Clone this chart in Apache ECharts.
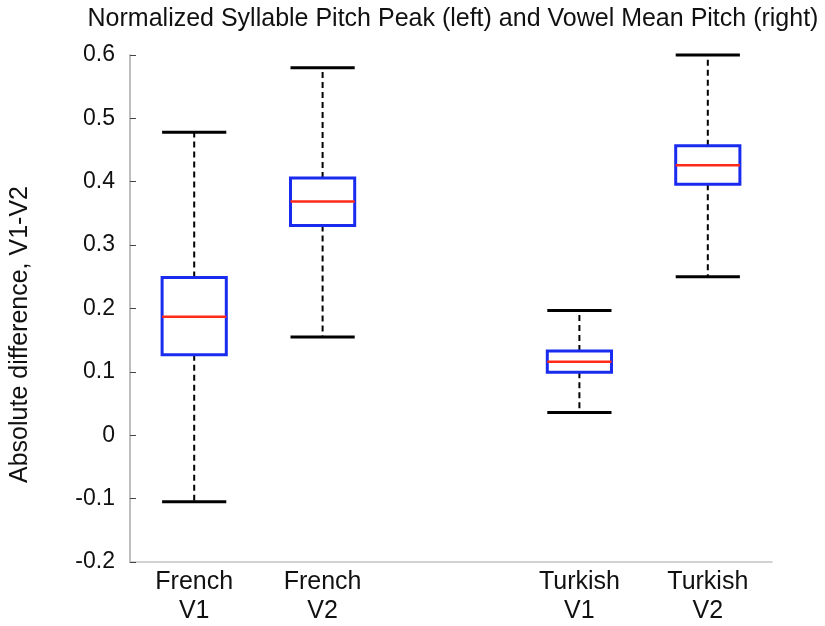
<!DOCTYPE html>
<html>
<head>
<meta charset="utf-8">
<script src="https://cdn.jsdelivr.net/npm/echarts@6/dist/echarts.min.js"></script>
<style>
  html, body { margin: 0; padding: 0; background: #fff; }
  #chart { width: 825px; height: 626px; }
</style>
</head>
<body>
<div id="chart"></div>
<script>
// x axis slots; the empty one makes the gap between the two languages
const categories = ['French\nV1', 'French\nV2', '', 'Turkish\nV1', 'Turkish\nV2'];
const boxCats = ['French\nV1', 'French\nV2', 'Turkish\nV1', 'Turkish\nV2'];
const whiskerLow = [-0.105, 0.155, 0.036, 0.250];
const q1 = [0.127, 0.331, 0.0995, 0.396];
const median = [0.187, 0.369, 0.116, 0.426];
const q3 = [0.249, 0.406, 0.133, 0.457];
const whiskerHigh = [0.478, 0.580, 0.197, 0.600];
const yTicks = [-0.2, -0.1, 0, 0.1, 0.2, 0.3, 0.4, 0.5, 0.6];

const font = 'Liberation Sans, Arial, Helvetica, sans-serif';

const boxData = boxCats.map((c, i) => [c, whiskerLow[i], q1[i], median[i], q3[i], whiskerHigh[i]]);

function renderBox(params, api) {
  const x = api.value(0);
  const lo = api.coord([x, api.value(1)]);
  const b1 = api.coord([x, api.value(2)]);
  const md = api.coord([x, api.value(3)]);
  const b3 = api.coord([x, api.value(4)]);
  const hi = api.coord([x, api.value(5)]);
  const hw = api.size([1, 0])[0] * 0.25;
  const cx = lo[0];
  const dash = { stroke: '#000', lineWidth: 2, lineDash: [6, 4] };
  const cap = { stroke: '#000', lineWidth: 3 };
  return {
    type: 'group',
    children: [
      { type: 'line', shape: { x1: cx, y1: b3[1], x2: cx, y2: hi[1] }, style: dash },
      { type: 'line', shape: { x1: cx, y1: b1[1], x2: cx, y2: lo[1] }, style: dash },
      { type: 'line', shape: { x1: cx - hw, y1: hi[1], x2: cx + hw, y2: hi[1] }, style: cap },
      { type: 'line', shape: { x1: cx - hw, y1: lo[1], x2: cx + hw, y2: lo[1] }, style: cap },
      { type: 'rect', shape: { x: cx - hw, y: b3[1], width: hw * 2, height: b1[1] - b3[1] },
        style: { fill: '#fff', stroke: '#1a2bf0', lineWidth: 3 } },
      { type: 'line', shape: { x1: cx - hw, y1: md[1], x2: cx + hw, y2: md[1] },
        style: { stroke: '#ff2a1a', lineWidth: 2.5 } }
    ]
  };
}

const chart = echarts.init(document.getElementById('chart'));
chart.setOption({
  animation: false,
  title: {
    text: 'Normalized Syllable Pitch Peak (left) and Vowel Mean Pitch (right)',
    left: 448,
    textAlign: 'center',
    top: 2,
    textStyle: { fontFamily: font, fontSize: 25, fontWeight: 'normal', color: '#111' }
  },
  grid: { left: 128, right: 53, top: 55, bottom: 64 },
  xAxis: {
    type: 'category',
    data: categories,
    axisLine: { onZero: false, lineStyle: { color: '#c4c4c4', width: 1.5 } },
    axisTick: {
      inside: true, alignWithLabel: true, length: 6,
      interval: (i, v) => v !== '',
      lineStyle: { color: '#444' }
    },
    axisLabel: {
      interval: 0, margin: 6,
      fontFamily: font, fontSize: 25, lineHeight: 29, color: '#111'
    }
  },
  yAxis: {
    type: 'value',
    min: yTicks[0],
    max: yTicks[yTicks.length - 1],
    interval: 0.1,
    name: 'Absolute difference, V1-V2',
    nameLocation: 'middle',
    nameGap: 97,
    nameTextStyle: { fontFamily: font, fontSize: 25, color: '#111', padding: [0, 52, 0, 0] },
    splitLine: { show: false },
    axisLine: { show: true, lineStyle: { color: '#a8a8a8', width: 1.5 } },
    axisTick: { show: true, inside: true, length: 6, lineStyle: { color: '#444' } },
    axisLabel: {
      margin: 15, fontFamily: font, fontSize: 23, color: '#111',
      formatter: v => String(+v.toFixed(1))
    }
  },
  series: [{
    type: 'custom',
    renderItem: renderBox,
    encode: { x: 0, y: [1, 2, 3, 4, 5] },
    data: boxData
  }]
});
</script>
</body>
</html>
